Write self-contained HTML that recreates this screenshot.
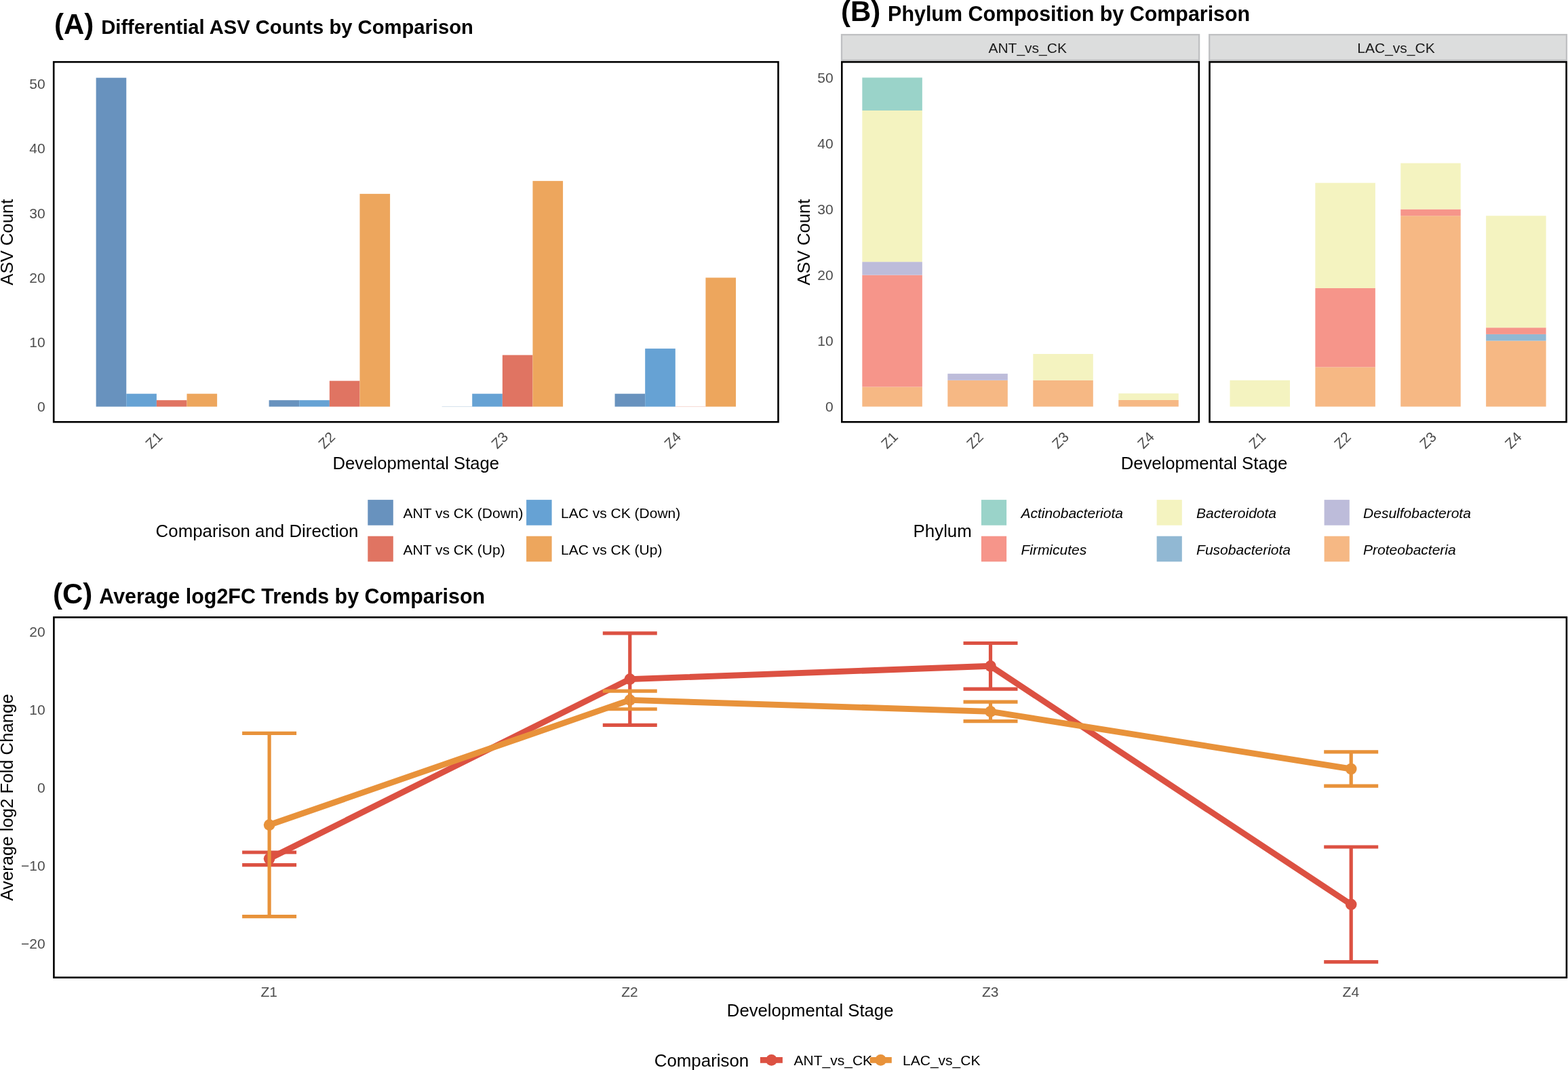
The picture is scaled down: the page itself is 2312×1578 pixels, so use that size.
<!DOCTYPE html>
<html><head><meta charset="utf-8"><title>Differential ASV analysis</title>
<style>html,body{margin:0;padding:0;background:#fff;}svg{display:block;}text{font-family:"Liberation Sans", Arial, Helvetica, sans-serif;}</style>
</head><body>
<svg width="2312" height="1578" viewBox="0 0 2312 1578">
<rect width="2312" height="1578" fill="#fff"/>
<rect x="141.64" y="114.69" width="44.62" height="485.01" fill="#6892BE"/>
<rect x="186.26" y="580.68" width="44.62" height="19.02" fill="#66A2D4"/>
<rect x="230.89" y="590.19" width="44.62" height="9.51" fill="#E07462"/>
<rect x="275.51" y="580.68" width="44.62" height="19.02" fill="#EDA65D"/>
<rect x="396.62" y="590.19" width="44.62" height="9.51" fill="#6892BE"/>
<rect x="441.24" y="590.19" width="44.62" height="9.51" fill="#66A2D4"/>
<rect x="485.86" y="561.66" width="44.62" height="38.04" fill="#E07462"/>
<rect x="530.48" y="285.87" width="44.62" height="313.83" fill="#EDA65D"/>
<rect x="651.6" y="599.3" width="44.62" height="0.8" fill="#6892BE" opacity="0.35"/>
<rect x="696.22" y="580.68" width="44.62" height="19.02" fill="#66A2D4"/>
<rect x="740.84" y="523.62" width="44.62" height="76.08" fill="#E07462"/>
<rect x="785.46" y="266.85" width="44.62" height="332.85" fill="#EDA65D"/>
<rect x="906.57" y="580.68" width="44.62" height="19.02" fill="#6892BE"/>
<rect x="951.19" y="514.11" width="44.62" height="85.59" fill="#66A2D4"/>
<rect x="995.81" y="599.3" width="44.62" height="0.8" fill="#E07462" opacity="0.35"/>
<rect x="1040.44" y="409.5" width="44.62" height="190.2" fill="#EDA65D"/>
<rect x="79.2" y="91.4" width="1068.3" height="530.9" fill="none" stroke="#000" stroke-width="2.6"/>
<text x="66.6" y="606.85" font-size="21" fill="#4D4D4D" text-anchor="end">0</text>
<text x="66.6" y="511.75" font-size="21" fill="#4D4D4D" text-anchor="end">10</text>
<text x="66.6" y="416.65" font-size="21" fill="#4D4D4D" text-anchor="end">20</text>
<text x="66.6" y="321.55" font-size="21" fill="#4D4D4D" text-anchor="end">30</text>
<text x="66.6" y="226.45" font-size="21" fill="#4D4D4D" text-anchor="end">40</text>
<text x="66.6" y="131.35" font-size="21" fill="#4D4D4D" text-anchor="end">50</text>
<text transform="translate(240.64,645.65) rotate(-45)" font-size="21" fill="#4D4D4D" text-anchor="end">Z1</text>
<text transform="translate(495.61,645.65) rotate(-45)" font-size="21" fill="#4D4D4D" text-anchor="end">Z2</text>
<text transform="translate(750.59,645.65) rotate(-45)" font-size="21" fill="#4D4D4D" text-anchor="end">Z3</text>
<text transform="translate(1005.56,645.65) rotate(-45)" font-size="21" fill="#4D4D4D" text-anchor="end">Z4</text>
<text x="613.35" y="691.6" font-size="25.7" fill="#000" text-anchor="middle">Developmental Stage</text>
<text transform="translate(19.0,357.2) rotate(-90)" font-size="25.7" text-anchor="middle">ASV Count</text>
<text x="79.9" y="49.8" font-size="42" fill="#000" font-weight="bold">(A)</text>
<text x="149.2" y="49.8" font-size="29.2" fill="#000" font-weight="bold">Differential ASV Counts by Comparison</text>
<text x="229.6" y="792.2" font-size="25.85" fill="#000">Comparison and Direction</text>
<rect x="542.3" y="737.1" width="37.5" height="37.6" fill="#6892BE"/>
<text x="594.5" y="764" font-size="21" fill="#000">ANT vs CK (Down)</text>
<rect x="542.3" y="790.7" width="37.5" height="37.6" fill="#E07462"/>
<text x="594.5" y="817.6" font-size="21" fill="#000">ANT vs CK (Up)</text>
<rect x="776.1" y="737.1" width="37.5" height="37.6" fill="#66A2D4"/>
<text x="827.1" y="764" font-size="21" fill="#000">LAC vs CK (Down)</text>
<rect x="776.1" y="790.7" width="37.5" height="37.6" fill="#EDA65D"/>
<text x="827.1" y="817.6" font-size="21" fill="#000">LAC vs CK (Up)</text>
<rect x="1271.34" y="570.54" width="88.5" height="29.11" fill="#F6B884"/>
<rect x="1271.34" y="405.57" width="88.5" height="164.97" fill="#F6958A"/>
<rect x="1271.34" y="386.16" width="88.5" height="19.41" fill="#BDBCDA"/>
<rect x="1271.34" y="162.97" width="88.5" height="223.19" fill="#F4F3C0"/>
<rect x="1271.34" y="114.45" width="88.5" height="48.52" fill="#9AD3C9"/>
<text transform="translate(1325.34,645.65) rotate(-45)" font-size="21" fill="#4D4D4D" text-anchor="end">Z1</text>
<rect x="1397.31" y="560.83" width="88.5" height="38.82" fill="#F6B884"/>
<rect x="1397.31" y="551.13" width="88.5" height="9.7" fill="#BDBCDA"/>
<text transform="translate(1451.31,645.65) rotate(-45)" font-size="21" fill="#4D4D4D" text-anchor="end">Z2</text>
<rect x="1523.29" y="560.83" width="88.5" height="38.82" fill="#F6B884"/>
<rect x="1523.29" y="522.02" width="88.5" height="38.82" fill="#F4F3C0"/>
<text transform="translate(1577.29,645.65) rotate(-45)" font-size="21" fill="#4D4D4D" text-anchor="end">Z3</text>
<rect x="1649.26" y="589.95" width="88.5" height="9.7" fill="#F6B884"/>
<rect x="1649.26" y="580.24" width="88.5" height="9.7" fill="#F4F3C0"/>
<text transform="translate(1703.26,645.65) rotate(-45)" font-size="21" fill="#4D4D4D" text-anchor="end">Z4</text>
<rect x="1241.3" y="91.4" width="526.5" height="530.9" fill="none" stroke="#000" stroke-width="2.6"/>
<rect x="1241" y="51.2" width="527.1" height="37.6" fill="#DCDDDD" stroke="#BFC0C2" stroke-width="2.3"/>
<text x="1515.2" y="78" font-size="21" fill="#1A1A1A" text-anchor="middle">ANT_vs_CK</text>
<rect x="1813.48" y="560.83" width="88.5" height="38.82" fill="#F4F3C0"/>
<text transform="translate(1867.48,645.65) rotate(-45)" font-size="21" fill="#4D4D4D" text-anchor="end">Z1</text>
<rect x="1939.36" y="541.43" width="88.5" height="58.22" fill="#F6B884"/>
<rect x="1939.36" y="424.98" width="88.5" height="116.45" fill="#F6958A"/>
<rect x="1939.36" y="269.71" width="88.5" height="155.26" fill="#F4F3C0"/>
<text transform="translate(1993.36,645.65) rotate(-45)" font-size="21" fill="#4D4D4D" text-anchor="end">Z2</text>
<rect x="2065.24" y="318.23" width="88.5" height="281.42" fill="#F6B884"/>
<rect x="2065.24" y="308.53" width="88.5" height="9.7" fill="#F6958A"/>
<rect x="2065.24" y="240.6" width="88.5" height="67.93" fill="#F4F3C0"/>
<text transform="translate(2119.24,645.65) rotate(-45)" font-size="21" fill="#4D4D4D" text-anchor="end">Z3</text>
<rect x="2191.12" y="502.61" width="88.5" height="97.04" fill="#F6B884"/>
<rect x="2191.12" y="492.91" width="88.5" height="9.7" fill="#91B8D3"/>
<rect x="2191.12" y="483.2" width="88.5" height="9.7" fill="#F6958A"/>
<rect x="2191.12" y="318.23" width="88.5" height="164.97" fill="#F4F3C0"/>
<text transform="translate(2245.12,645.65) rotate(-45)" font-size="21" fill="#4D4D4D" text-anchor="end">Z4</text>
<rect x="1783.5" y="91.4" width="526.1" height="530.9" fill="none" stroke="#000" stroke-width="2.6"/>
<rect x="1783.2" y="51.2" width="526.7" height="37.6" fill="#DCDDDD" stroke="#BFC0C2" stroke-width="2.3"/>
<text x="2058.5" y="78" font-size="21" fill="#1A1A1A" text-anchor="middle">LAC_vs_CK</text>
<text x="1228.6" y="606.85" font-size="21" fill="#4D4D4D" text-anchor="end">0</text>
<text x="1228.6" y="509.85" font-size="21" fill="#4D4D4D" text-anchor="end">10</text>
<text x="1228.6" y="412.85" font-size="21" fill="#4D4D4D" text-anchor="end">20</text>
<text x="1228.6" y="315.85" font-size="21" fill="#4D4D4D" text-anchor="end">30</text>
<text x="1228.6" y="218.85" font-size="21" fill="#4D4D4D" text-anchor="end">40</text>
<text x="1228.6" y="121.85" font-size="21" fill="#4D4D4D" text-anchor="end">50</text>
<text x="1775.45" y="691.6" font-size="25.7" fill="#000" text-anchor="middle">Developmental Stage</text>
<text transform="translate(1193.5,357.1) rotate(-90)" font-size="25.7" text-anchor="middle">ASV Count</text>
<text x="1240" y="30.5" font-size="42" fill="#000" font-weight="bold">(B)</text>
<text x="1309.1" y="30.5" font-size="30.43" fill="#000" font-weight="bold">Phylum Composition by Comparison</text>
<text x="1346.6" y="792.2" font-size="25.85" fill="#000">Phylum</text>
<rect x="1446.9" y="737.1" width="37.2" height="37.6" fill="#9AD3C9"/>
<text x="1505.4" y="764" font-size="21" fill="#000" font-style="italic">Actinobacteriota</text>
<rect x="1446.9" y="790.7" width="37.2" height="37.6" fill="#F6958A"/>
<text x="1505.4" y="817.6" font-size="21" fill="#000" font-style="italic">Firmicutes</text>
<rect x="1705.6" y="737.1" width="37.2" height="37.6" fill="#F4F3C0"/>
<text x="1764.1" y="764" font-size="21" fill="#000" font-style="italic">Bacteroidota</text>
<rect x="1705.6" y="790.7" width="37.2" height="37.6" fill="#91B8D3"/>
<text x="1764.1" y="817.6" font-size="21" fill="#000" font-style="italic">Fusobacteriota</text>
<rect x="1952.6" y="737.1" width="37.2" height="37.6" fill="#BDBCDA"/>
<text x="2010.1" y="764" font-size="21" fill="#000" font-style="italic">Desulfobacterota</text>
<rect x="1952.6" y="790.7" width="37.2" height="37.6" fill="#F6B884"/>
<text x="2010.1" y="817.6" font-size="21" fill="#000" font-style="italic">Proteobacteria</text>
<polyline points="397.11,1266.3 928.8,1001.6 1460.5,982.3 1992.19,1333.85" fill="none" stroke="#DC5142" stroke-width="8.9" stroke-linejoin="round" stroke-linecap="butt"/>
<polyline points="397.11,1216.55 928.8,1032.4 1460.5,1049.4 1992.19,1134" fill="none" stroke="#E8923A" stroke-width="8.9" stroke-linejoin="round" stroke-linecap="butt"/>
<circle cx="397.11" cy="1266.3" r="8.35" fill="#DC5142"/>
<circle cx="928.8" cy="1001.6" r="8.35" fill="#DC5142"/>
<circle cx="1460.5" cy="982.3" r="8.35" fill="#DC5142"/>
<circle cx="1992.19" cy="1333.85" r="8.35" fill="#DC5142"/>
<circle cx="397.11" cy="1216.55" r="8.35" fill="#E8923A"/>
<circle cx="928.8" cy="1032.4" r="8.35" fill="#E8923A"/>
<circle cx="1460.5" cy="1049.4" r="8.35" fill="#E8923A"/>
<circle cx="1992.19" cy="1134" r="8.35" fill="#E8923A"/>
<path d="M357.11 1257H437.11M397.11 1257V1275.6M357.11 1275.6H437.11" fill="none" stroke="#DC5142" stroke-width="5.2"/>
<path d="M888.8 933.8H968.8M928.8 933.8V1069.4M888.8 1069.4H968.8" fill="none" stroke="#DC5142" stroke-width="5.2"/>
<path d="M1420.5 948.5H1500.5M1460.5 948.5V1016.1M1420.5 1016.1H1500.5" fill="none" stroke="#DC5142" stroke-width="5.2"/>
<path d="M1952.19 1249H2032.19M1992.19 1249V1418.7M1952.19 1418.7H2032.19" fill="none" stroke="#DC5142" stroke-width="5.2"/>
<path d="M357.11 1081.4H437.11M397.11 1081.4V1351.7M357.11 1351.7H437.11" fill="none" stroke="#E8923A" stroke-width="5.2"/>
<path d="M888.8 1019.05H968.8M928.8 1019.05V1045.75M888.8 1045.75H968.8" fill="none" stroke="#E8923A" stroke-width="5.2"/>
<path d="M1420.5 1035.15H1500.5M1460.5 1035.15V1063.65M1420.5 1063.65H1500.5" fill="none" stroke="#E8923A" stroke-width="5.2"/>
<path d="M1952.19 1108.8H2032.19M1992.19 1108.8V1159.2M1952.19 1159.2H2032.19" fill="none" stroke="#E8923A" stroke-width="5.2"/>
<rect x="79.4" y="910.4" width="2230.5" height="531.2" fill="none" stroke="#000" stroke-width="2.6"/>
<text x="66.6" y="938.8" font-size="21" fill="#4D4D4D" text-anchor="end">20</text>
<text x="66.6" y="1053.95" font-size="21" fill="#4D4D4D" text-anchor="end">10</text>
<text x="66.6" y="1169.1" font-size="21" fill="#4D4D4D" text-anchor="end">0</text>
<text x="66.6" y="1284.25" font-size="21" fill="#4D4D4D" text-anchor="end">−10</text>
<text x="66.6" y="1399.4" font-size="21" fill="#4D4D4D" text-anchor="end">−20</text>
<text x="396.76" y="1469.6" font-size="21" fill="#4D4D4D" text-anchor="middle">Z1</text>
<text x="928.45" y="1469.6" font-size="21" fill="#4D4D4D" text-anchor="middle">Z2</text>
<text x="1460.15" y="1469.6" font-size="21" fill="#4D4D4D" text-anchor="middle">Z3</text>
<text x="1991.84" y="1469.6" font-size="21" fill="#4D4D4D" text-anchor="middle">Z4</text>
<text x="1194.65" y="1498.9" font-size="25.7" fill="#000" text-anchor="middle">Developmental Stage</text>
<text transform="translate(18.9,1176.0) rotate(-90)" font-size="25.7" text-anchor="middle">Average log2 Fold Change</text>
<text x="77.95" y="889.8" font-size="42" fill="#000" font-weight="bold">(C)</text>
<text x="146.3" y="889.7" font-size="30.45" fill="#000" font-weight="bold">Average log2FC Trends by Comparison</text>
<text x="964.7" y="1573" font-size="25.9" fill="#000">Comparison</text>
<line x1="1120.9" y1="1563.4" x2="1153.9" y2="1563.4" stroke="#DC5142" stroke-width="8.9"/>
<circle cx="1137.5" cy="1563.4" r="8.35" fill="#DC5142"/>
<text x="1170.6" y="1570.9" font-size="21" fill="#000">ANT_vs_CK</text>
<line x1="1282.6" y1="1563.4" x2="1314.8" y2="1563.4" stroke="#E8923A" stroke-width="8.9"/>
<circle cx="1298.6" cy="1563.4" r="8.35" fill="#E8923A"/>
<text x="1331.1" y="1570.9" font-size="21" fill="#000">LAC_vs_CK</text>
</svg>
</body></html>
